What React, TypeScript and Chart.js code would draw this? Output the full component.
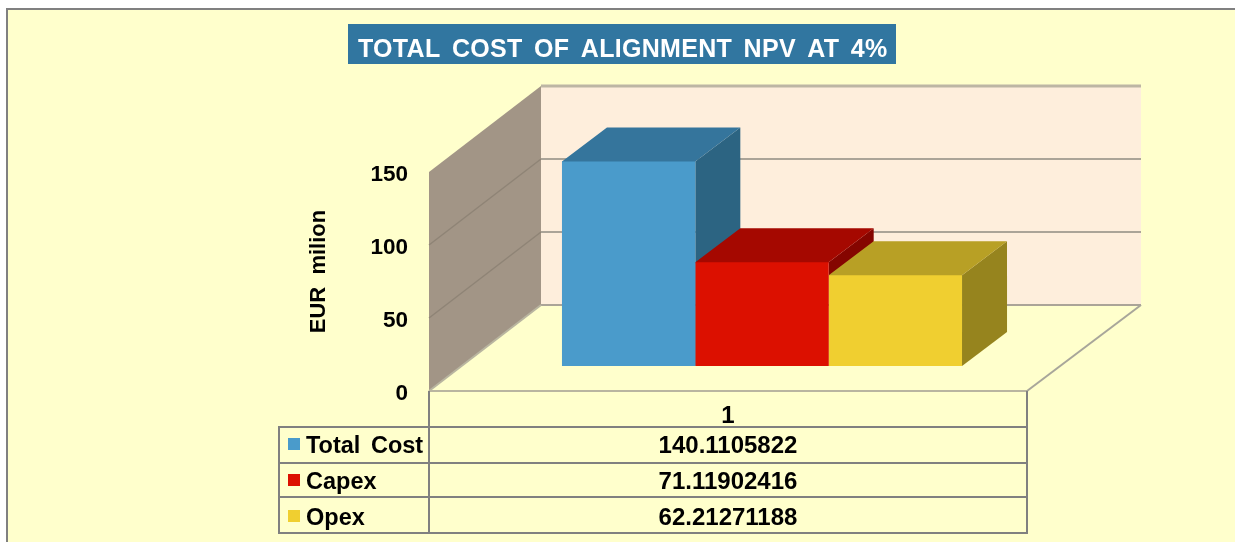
import React, { useEffect, useRef } from "react";
import { Chart, registerables } from "chart.js";

Chart.register(...registerables);

const categories = ["1"];
const seriesNames = ["Total Cost", "Capex", "Opex"];
const totalCost = [140.1105822];
const capex = [71.11902416];
const opex = [62.21271188];
const yTicks = [0, 50, 100, 150];
const titleText = "TOTAL COST OF ALIGNMENT NPV AT 4%";
const yAxisTitle = "EUR  milion";
const frontColors = ["#4A9BCB", "#DC1000", "#F0CF30"];
const topColors = ["#35759C", "#A50800", "#B8A025"];
const sideColors = ["#2C6482", "#850500", "#96841E"];

const FONT = '"Liberation Sans", Arial, sans-serif';
const W = 1235;
const H = 542;
const AREA = { left: 429, right: 1027, top: 172, bottom: 391 };
const WALL_DX = 112;
const WALL_DY = -86;
const BAR_DX = 34;
const BAR_DY = -25;
const DEPTH_X = 45;
const DEPTH_Y = -34;

function poly(ctx: CanvasRenderingContext2D, pts: number[][], fill: string) {
  ctx.beginPath();
  pts.forEach((p, i) => (i ? ctx.lineTo(p[0], p[1]) : ctx.moveTo(p[0], p[1])));
  ctx.closePath();
  ctx.fillStyle = fill;
  ctx.fill();
}

function line(ctx: CanvasRenderingContext2D, x1: number, y1: number, x2: number, y2: number, color: string, w = 2) {
  ctx.beginPath();
  ctx.moveTo(x1, y1);
  ctx.lineTo(x2, y2);
  ctx.strokeStyle = color;
  ctx.lineWidth = w;
  ctx.stroke();
}

const scene3d = {
  id: "scene3d",
  beforeDraw(chart: any) {
    const ctx: any = chart.ctx;
    ctx.save();
    ctx.fillStyle = "#FFFFFF";
    ctx.fillRect(0, 0, W, H);
    ctx.fillStyle = "#FFFFCC";
    ctx.fillRect(7, 9, W - 7, H - 9);
    line(ctx, 7, 9, W, 9, "#808080");
    line(ctx, 7, 8, 7, H, "#808080");

    // title
    ctx.fillStyle = "#3176A0";
    ctx.fillRect(348, 24, 548, 40);
    ctx.fillStyle = "#FFFFFF";
    ctx.font = `bold 25px ${FONT}`;
    ctx.textAlign = "left";
    ctx.textBaseline = "alphabetic";
    ctx.letterSpacing = "0.3px";
    ctx.wordSpacing = "4.2px";
    ctx.fillText(titleText, 358, 57);
    ctx.letterSpacing = "0px";
    ctx.wordSpacing = "0px";

    // axis title
    ctx.save();
    ctx.translate(325, 271.5);
    ctx.rotate(-Math.PI / 2);
    ctx.textAlign = "center";
    ctx.fillStyle = "#000";
    ctx.font = `bold 22px ${FONT}`;
    ctx.fillText(yAxisTitle, 0, 0);
    ctx.restore();
    ctx.restore();
  },
  beforeDatasetsDraw(chart: any) {
    const ctx: CanvasRenderingContext2D = chart.ctx;
    const y = chart.scales.y;
    const { left, right } = chart.chartArea;
    const y0 = y.getPixelForValue(0);
    const yTop = y.getPixelForValue(150);
    const gridColor = "#ABA498";

    ctx.save();
    // back wall and side wall
    poly(ctx, [[left + WALL_DX, yTop + WALL_DY], [right + WALL_DX + 2, yTop + WALL_DY], [right + WALL_DX + 2, y0 + WALL_DY], [left + WALL_DX, y0 + WALL_DY]], "#FEEEDC");
    poly(ctx, [[left, yTop], [left + WALL_DX, yTop + WALL_DY], [left + WALL_DX, y0 + WALL_DY], [left, y0]], "#A29586");
    for (const t of yTicks) {
      const p = y.getPixelForValue(t);
      if (t !== 0 && t !== 150) line(ctx, left, p, left + WALL_DX, p + WALL_DY, "#8F8476", 1.5);
      line(ctx, left + WALL_DX, p + WALL_DY, right + WALL_DX + 2, p + WALL_DY, t === 150 ? "#BDB6A4" : gridColor, t === 150 ? 3 : 2);
    }
    // floor
    line(ctx, left, y0, right, y0, "#B9B5A0", 2);
    line(ctx, right, y0, right + WALL_DX + 2, y0 + WALL_DY, "#A8A69A", 2);
    line(ctx, left, y0, left + WALL_DX, y0 + WALL_DY, "#B9B5A0", 2);

    // bar depth faces (top faces run 1px under the front face to avoid a seam)
    chart.data.datasets.forEach((_: any, i: number) => {
      const bar = chart.getDatasetMeta(i).data[0];
      const x1 = bar.x - bar.width / 2 + BAR_DX;
      const x2 = bar.x + bar.width / 2 + BAR_DX;
      const yt = bar.y + BAR_DY;
      const yb = bar.base + BAR_DY;
      poly(ctx, [[x2, yt], [x2 + DEPTH_X, yt + DEPTH_Y], [x2 + DEPTH_X, yb + DEPTH_Y], [x2, yb]], sideColors[i]);
      poly(ctx, [[x1, yt], [x1 + DEPTH_X, yt + DEPTH_Y], [x2 + DEPTH_X, yt + DEPTH_Y], [x2, yt], [x2, yt + 1], [x1, yt + 1]], topColors[i]);
    });
    ctx.restore();

    ctx.save();
    ctx.translate(BAR_DX, BAR_DY);
  },
  afterDatasetsDraw(chart: any) {
    chart.ctx.restore();
  },
  afterDraw(chart: any) {
    const ctx: any = chart.ctx;
    const { left, right, bottom } = chart.chartArea;
    const tableLeft = 279;
    const rowLines = [427, 463, 497, 533];
    const gray = "#808080";
    ctx.save();
    line(ctx, left, bottom, left, rowLines[3] + 1, gray);
    line(ctx, right, bottom, right, rowLines[3] + 1, gray);
    line(ctx, tableLeft, rowLines[0] - 1, tableLeft, rowLines[3] + 1, gray);
    rowLines.forEach((ry) => line(ctx, tableLeft, ry, right, ry, gray));

    ctx.fillStyle = "#000";
    ctx.font = `bold 24px ${FONT}`;
    ctx.textBaseline = "alphabetic";
    const mid = (left + right) / 2;
    ctx.textAlign = "center";
    ctx.fillText(categories[0], mid, 423);

    const values = [totalCost[0], capex[0], opex[0]];
    const baselines = [453, 489, 525];
    seriesNames.forEach((name, i) => {
      ctx.fillStyle = frontColors[i];
      ctx.fillRect(288, baselines[i] - 15, 12, 12);
      ctx.fillStyle = "#000";
      ctx.textAlign = "left";
      ctx.font = `bold 23.5px ${FONT}`;
      ctx.wordSpacing = "4px";
      ctx.fillText(name, 306, baselines[i]);
      ctx.wordSpacing = "0px";
      ctx.textAlign = "center";
      ctx.font = `bold 24px ${FONT}`;
      ctx.fillText(String(values[i]), mid, baselines[i]);
    });
    ctx.restore();
  },
};

export default function App() {
  const ref = useRef<HTMLCanvasElement>(null);
  useEffect(() => {
    if (!ref.current) return;
    const chart = new Chart(ref.current, {
      type: "bar",
      data: {
        labels: categories,
        datasets: [totalCost, capex, opex].map((data, i) => ({
          label: seriesNames[i],
          data,
          backgroundColor: frontColors[i],
          borderWidth: 0,
          categoryPercentage: 0.669,
          barPercentage: 1,
          clip: false as any,
        })),
      },
      options: {
        responsive: false,
        animation: false,
        layout: { padding: { left: 0, top: AREA.top, right: W - AREA.right, bottom: H - AREA.bottom } },
        plugins: { legend: { display: false }, title: { display: false }, tooltip: { enabled: false } },
        scales: {
          x: { display: false },
          y: {
            min: 0,
            max: 150,
            afterFit: (s: any) => { s.width = AREA.left; },
            grid: { display: false, drawTicks: false },
            border: { display: false },
            afterBuildTicks: (s: any) => { s.ticks = yTicks.map((value) => ({ value })); },
            ticks: {
              padding: 21,
              labelOffset: 3,
              color: "#000",
              font: { family: FONT, size: 22.5, weight: "bold" },
            },
          },
        },
      },
      plugins: [scene3d],
    });
    return () => chart.destroy();
  }, []);
  return (
    <div style={{ position: "fixed", left: 0, top: 0, width: W, height: H }}>
      <canvas ref={ref} width={W} height={H} style={{ display: "block" }} />
    </div>
  );
}
